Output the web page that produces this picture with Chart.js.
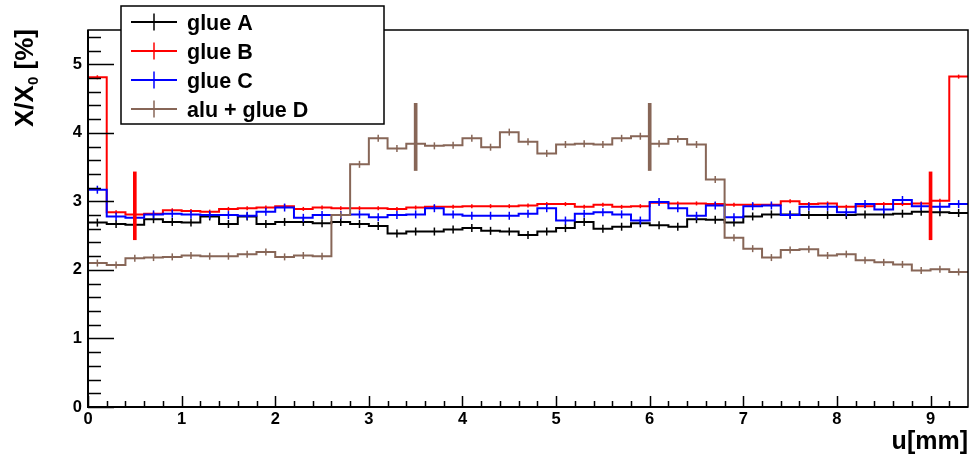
<!DOCTYPE html>
<html>
<head>
<meta charset="utf-8">
<script src="https://cdn.jsdelivr.net/npm/chart.js@4.4.1/dist/chart.umd.min.js"></script>
<style>
  html, body { margin: 0; padding: 0; background: #fff; }
</style>
</head>
<body>
<canvas id="c" width="970" height="455"></canvas>
<script>
// X/X0 per 0.2 mm bin
var xMax = 9.4;
var yMax = 5.5;
var binWidth = 0.2;
var binLow = [0.0, 0.2, 0.4, 0.6, 0.8, 1.0, 1.2, 1.4, 1.6, 1.8,
  2.0, 2.2, 2.4, 2.6, 2.8, 3.0, 3.2, 3.4, 3.6, 3.8,
  4.0, 4.2, 4.4, 4.6, 4.8, 5.0, 5.2, 5.4, 5.6, 5.8,
  6.0, 6.2, 6.4, 6.6, 6.8, 7.0, 7.2, 7.4, 7.6, 7.8,
  8.0, 8.2, 8.4, 8.6, 8.8, 9.0, 9.2];

var glueA = [2.69, 2.67, 2.66, 2.74, 2.70, 2.69, 2.78, 2.67, 2.78, 2.67,
  2.70, 2.70, 2.68, 2.70, 2.67, 2.64, 2.53, 2.56, 2.56, 2.59,
  2.61, 2.57, 2.56, 2.51, 2.56, 2.61, 2.70, 2.60, 2.63, 2.68,
  2.65, 2.63, 2.74, 2.73, 2.69, 2.78, 2.81, 2.81, 2.80, 2.80,
  2.80, 2.81, 2.81, 2.82, 2.85, 2.84, 2.83];
var glueB = [4.81, 2.84, 2.81, 2.82, 2.87, 2.86, 2.85, 2.89, 2.90, 2.91,
  2.93, 2.89, 2.91, 2.90, 2.90, 2.90, 2.89, 2.91, 2.92, 2.92,
  2.93, 2.93, 2.93, 2.94, 2.96, 2.96, 2.92, 2.95, 2.92, 2.93,
  2.98, 2.97, 2.97, 2.96, 2.95, 2.95, 2.95, 3.00, 2.96, 2.97,
  2.92, 2.93, 2.96, 2.96, 2.97, 3.01, 4.82];
var glueC = [3.17, 2.78, 2.76, 2.81, 2.82, 2.81, 2.80, 2.80, 2.79, 2.85,
  2.91, 2.76, 2.80, 2.80, 2.81, 2.77, 2.80, 2.81, 2.90, 2.81,
  2.79, 2.79, 2.79, 2.82, 2.90, 2.72, 2.82, 2.84, 2.81, 2.72,
  2.99, 2.90, 2.79, 2.94, 2.77, 2.93, 2.94, 2.80, 2.92, 2.92,
  2.84, 2.96, 2.88, 3.02, 2.93, 2.92, 2.96];
var aluGlueD = [2.10, 2.07, 2.17, 2.18, 2.19, 2.21, 2.20, 2.20, 2.23, 2.26,
  2.19, 2.21, 2.20, 2.80, 3.54, 3.92, 3.77, 3.84, 3.81, 3.82,
  3.92, 3.79, 4.01, 3.87, 3.70, 3.83, 3.84, 3.83, 3.92, 3.95,
  3.84, 3.91, 3.83, 3.32, 2.47, 2.31, 2.18, 2.29, 2.30, 2.21,
  2.23, 2.14, 2.11, 2.08, 1.99, 2.01, 1.97];

// large error bars (lo, hi)
var bigErrBx = [0.5, 9.0];
var bigErrBlo = [2.44, 2.44];
var bigErrBhi = [3.43, 3.43];
var bigErrDx = [3.5, 6.0];
var bigErrDlo = [3.45, 3.45];
var bigErrDhi = [4.43, 4.43];

var seriesLabels = ['glue A', 'glue B', 'glue C', 'alu + glue D'];
var colors = ['#000000', '#ff0000', '#0000ff', '#876657'];

var font = '"Liberation Sans", Arial, Helvetica, sans-serif';

function stepPoints(vals) {
  var pts = binLow.map(function(x, i) { return { x: x, y: vals[i] }; });
  pts.push({ x: xMax, y: vals[vals.length - 1] });
  return pts;
}

function centerPoints(vals) {
  return binLow.map(function(x, i) { return { x: x + binWidth / 2, y: vals[i] }; });
}

function histSets(label, vals, color, tick, order) {
  return [{
    type: 'line',
    label: label,
    data: stepPoints(vals),
    stepped: 'before',
    borderColor: color,
    borderWidth: 2,
    pointRadius: 0,
    fill: false,
    order: order
  }, {
    type: 'line',
    label: label + ' err',
    data: centerPoints(vals),
    showLine: false,
    pointStyle: 'line',
    pointRotation: 90,
    pointRadius: tick,
    pointBorderColor: color,
    pointBorderWidth: 1.5,
    order: order
  }];
}

function errBars(xs, lo, hi, color) {
  return {
    type: 'bar',
    data: xs.map(function(x, i) { return { x: x, y: [lo[i], hi[i]] }; }),
    backgroundColor: color,
    borderWidth: 0,
    barThickness: 3,
    grouped: false,
    order: 0
  };
}

var datasets = []
  .concat(histSets(seriesLabels[0], glueA, colors[0], 4, 4))
  .concat(histSets(seriesLabels[1], glueB, colors[1], 2, 3))
  .concat(histSets(seriesLabels[2], glueC, colors[2], 4, 2))
  .concat(histSets(seriesLabels[3], aluGlueD, colors[3], 3.5, 1));
datasets.push(errBars(bigErrBx, bigErrBlo, bigErrBhi, colors[1]));
datasets.push(errBars(bigErrDx, bigErrDlo, bigErrDhi, colors[3]));

function noPad(s) {
  s.paddingLeft = 0;
  s.paddingRight = 0;
  s.paddingTop = 0;
  s.paddingBottom = 0;
}

// ROOT style frame, inner ticks, legend box and titles
var rootDecor = {
  id: 'rootDecor',
  afterDraw: function(chart) {
    var ctx = chart.ctx, a = chart.chartArea;
    var xs = chart.scales.x, ys = chart.scales.y;
    var k, p, len;
    ctx.save();
    ctx.strokeStyle = '#000';
    ctx.lineWidth = 1.5;
    ctx.strokeRect(a.left, a.top, a.right - a.left, a.bottom - a.top);
    ctx.lineWidth = 2;
    ctx.beginPath();
    ctx.moveTo(a.left, a.top);
    ctx.lineTo(a.left, a.bottom);
    ctx.lineTo(a.right, a.bottom);
    ctx.stroke();

    // y ticks every 0.2, major at integers
    ctx.lineWidth = 1.5;
    ctx.beginPath();
    for (k = 0; k <= 27; k++) {
      p = Math.round(ys.getPixelForValue(k / 5)) + 0.5;
      len = (k % 5 === 0) ? 26 : 13;
      ctx.moveTo(a.left, p);
      ctx.lineTo(a.left + len, p);
    }
    // x ticks
    for (k = 0; k < 47; k++) {
      p = Math.round(xs.getPixelForValue(k / 5)) + 0.5;
      len = (k % 5 === 0) ? 11 : 6;
      ctx.moveTo(p, a.bottom);
      ctx.lineTo(p, a.bottom - len);
    }
    ctx.stroke();

    // legend
    var bx = 121, by = 6, bw = 263, bh = 118;
    ctx.fillStyle = '#fff';
    ctx.fillRect(bx, by, bw, bh);
    ctx.lineWidth = 1.5;
    ctx.strokeRect(bx, by, bw, bh);
    ctx.font = 'bold 21.5px ' + font;
    ctx.textAlign = 'left';
    ctx.textBaseline = 'alphabetic';
    for (k = 0; k < seriesLabels.length; k++) {
      var ry = 22 + k * 29;
      ctx.strokeStyle = colors[k];
      ctx.lineWidth = 2;
      ctx.beginPath();
      ctx.moveTo(131, ry);
      ctx.lineTo(177, ry);
      ctx.stroke();
      ctx.lineWidth = 1.5;
      ctx.beginPath();
      ctx.moveTo(154, ry - 8.5);
      ctx.lineTo(154, ry + 8.5);
      ctx.stroke();
      ctx.fillStyle = '#000';
      ctx.fillText(seriesLabels[k], 187, ry + 8);
    }

    // y title X/X0 [%]
    ctx.fillStyle = '#000';
    ctx.save();
    ctx.translate(33, 127);
    ctx.rotate(-Math.PI / 2);
    ctx.font = 'bold 26px ' + font;
    ctx.fillText('X/X', 0, 0);
    var w = ctx.measureText('X/X').width;
    ctx.font = 'bold 15px ' + font;
    ctx.fillText('0', w, 5);
    w += ctx.measureText('0').width;
    ctx.font = 'bold 26px ' + font;
    ctx.fillText(' [%]', w, 0);
    ctx.restore();

    // x title
    ctx.font = 'bold 25px ' + font;
    ctx.textAlign = 'right';
    ctx.fillText('u[mm]', 968, 449);
    ctx.restore();
  }
};

new Chart(document.getElementById('c'), {
  type: 'line',
  data: { datasets: datasets },
  options: {
    responsive: false,
    animation: false,
    devicePixelRatio: 1,
    layout: { autoPadding: false, padding: { top: 30, right: 2, left: 0, bottom: 0 } },
    plugins: {
      legend: { display: false },
      tooltip: { enabled: false }
    },
    scales: {
      x: {
        type: 'linear',
        min: 0,
        max: xMax,
        offset: false,
        grid: { display: false, drawTicks: false },
        border: { display: false },
        ticks: {
          stepSize: 1,
          includeBounds: false,
          padding: 3,
          maxRotation: 0,
          color: '#000',
          font: { family: font, size: 16.5, weight: 'bold' }
        },
        afterFit: function(s) { s.height = 48; noPad(s); }
      },
      y: {
        type: 'linear',
        min: 0,
        max: yMax,
        grid: { display: false, drawTicks: false },
        border: { display: false },
        ticks: {
          stepSize: 1,
          includeBounds: false,
          padding: 6,
          color: '#000',
          font: { family: font, size: 16.5, weight: 'bold' }
        },
        afterFit: function(s) { s.width = 88; noPad(s); }
      }
    }
  },
  plugins: [rootDecor]
});
</script>
</body>
</html>
